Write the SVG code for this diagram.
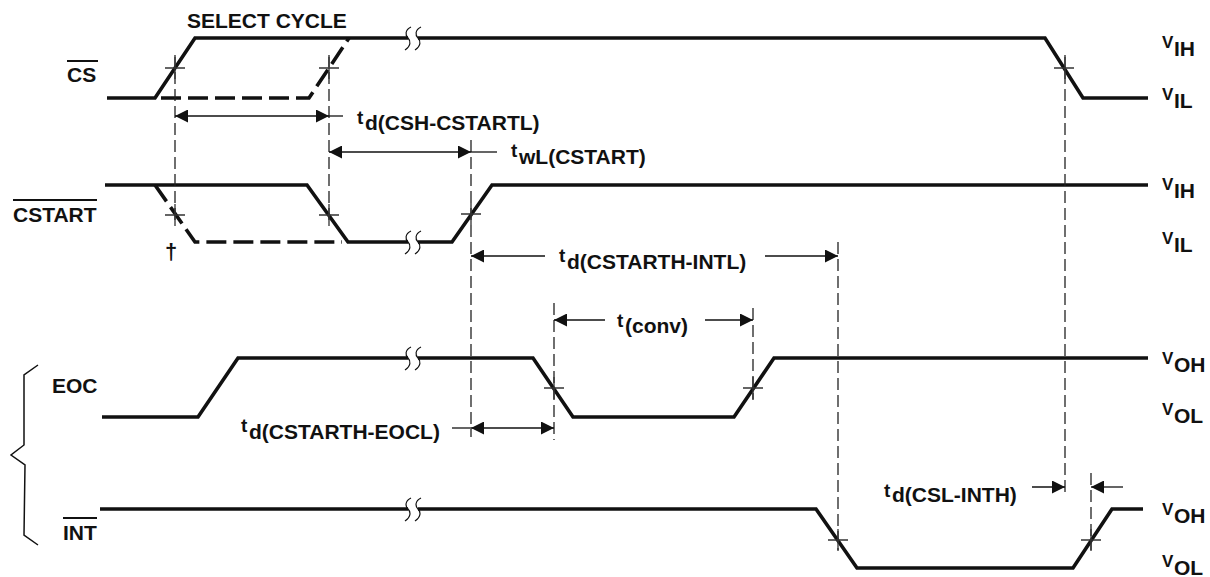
<svg xmlns="http://www.w3.org/2000/svg" width="1210" height="577" viewBox="0 0 1210 577">
<style>
.sig{fill:none;stroke:#111;stroke-width:3.6;stroke-linejoin:miter}
.dsig{fill:none;stroke:#111;stroke-width:3.6;stroke-dasharray:20,7}
.vd{stroke:#222;stroke-width:1.3;stroke-dasharray:12,5;fill:none}
.tk{stroke:#333;stroke-width:1.3;fill:none}
.ar{stroke:#111;stroke-width:1.3;fill:none}
.brk{stroke:#111;stroke-width:1.2;fill:none}
.ov{stroke:#111;stroke-width:2}
text{font-family:"Liberation Sans",Arial,sans-serif;font-weight:bold;fill:#111}
.lb{font-size:21px}
.t{font-size:19px}
.s{font-size:21px}
.v{font-size:17px}
</style>
<defs>
<marker id="ah" viewBox="0 0 13 13" refX="13" refY="6.5" markerWidth="13" markerHeight="13" markerUnits="userSpaceOnUse" orient="auto-start-reverse">
<path d="M0,0 L13,6.5 L0,13 z" fill="#111"/>
</marker>
</defs>
<rect width="1210" height="577" fill="#fff"/>

<g id="sig-cs">
<path class="sig" d="M107,98 L155,98 L195,38 L408,38 M418,38 L1045,38 L1083,98 L1148,98"/>
<path class="dsig" d="M161,98 L309,98 L349,38"/>
<text class="lb" x="67" y="82">CS</text>
<line class="ov" x1="67" y1="61" x2="98" y2="61"/>
<text class="lb" x="187" y="28">SELECT CYCLE</text>
</g>

<g id="sig-cstart">
<path class="sig" d="M105,185 L307,185 L348,242 L408,242 M418,242 L452,242 L492,185 L1148,185"/>
<path class="dsig" d="M155,185 L195,242 L342,242"/>
<text class="lb" x="13" y="222">CSTART</text>
<line class="ov" x1="13" y1="200" x2="97" y2="200"/>
<text x="165" y="259" style="font-size:22px">†</text>
</g>

<g id="sig-eoc">
<path class="sig" d="M102,417 L198,417 L238,358 L408,358 M418,358 L533,358 L573,417 L734,417 L774,358 L1148,358"/>
<text class="lb" x="52" y="393">EOC</text>
</g>

<g id="sig-int">
<path class="sig" d="M100,509 L408,509 M418,509 L816,509 L857,568 L1073,568 L1112,509 L1143,509"/>
<text class="lb" x="63" y="540">INT</text>
<line class="ov" x1="63" y1="518" x2="97" y2="518"/>
</g>

<g id="breaks">
<path class="brk" d="M411,27 C405,30 405,35 408,38 C411,41 411,46 405,50"/>
<path class="brk" d="M421,27 C415,30 415,35 418,38 C421,41 421,46 415,50"/>
<path class="brk" d="M411,231 C405,234 405,239 408,242 C411,245 411,250 405,254"/>
<path class="brk" d="M421,231 C415,234 415,239 418,242 C421,245 421,250 415,254"/>
<path class="brk" d="M411,347 C405,350 405,355 408,358 C411,361 411,366 405,370"/>
<path class="brk" d="M421,347 C415,350 415,355 418,358 C421,361 421,366 415,370"/>
<path class="brk" d="M411,498 C405,501 405,506 408,509 C411,512 411,517 405,521"/>
<path class="brk" d="M421,498 C415,501 415,506 418,509 C421,512 421,517 415,521"/>
</g>

<g id="brace">
<path class="brk" d="M38,365 L24,375 L24,445 L11,455 L25,465 L24,535 L38,545" style="stroke-width:1.5"/>
</g>

<g id="levels">
<text class="v" x="1162" y="48">V</text><text class="s" x="1174" y="56">IH</text>
<text class="v" x="1162" y="100">V</text><text class="s" x="1174" y="108">IL</text>
<text class="v" x="1162" y="190">V</text><text class="s" x="1174" y="198">IH</text>
<text class="v" x="1162" y="244">V</text><text class="s" x="1174" y="252">IL</text>
<text class="v" x="1162" y="364">V</text><text class="s" x="1174" y="372">OH</text>
<text class="v" x="1162" y="415">V</text><text class="s" x="1174" y="423">OL</text>
<text class="v" x="1162" y="515">V</text><text class="s" x="1174" y="523">OH</text>
<text class="v" x="1162" y="567">V</text><text class="s" x="1174" y="575">OL</text>
</g>

<g id="connectors">
<line class="vd" x1="175" y1="55" x2="175" y2="225"/>
<line class="vd" x1="329" y1="55" x2="329" y2="225"/>
<line class="vd" x1="471" y1="140" x2="471" y2="437"/>
<line class="vd" x1="554" y1="303" x2="554" y2="440"/>
<line class="vd" x1="753" y1="308" x2="753" y2="400"/>
<line class="vd" x1="838" y1="242" x2="838" y2="550"/>
<line class="vd" x1="1065" y1="55" x2="1065" y2="497"/>
<line class="vd" x1="1091" y1="473" x2="1091" y2="550"/>

<path class="tk" d="M165,68 H185 M175,57 V79 M319,68 H339 M329,57 V79 M1054,68 H1074 M1065,57 V79 M165,215 H185 M175,204 V226 M319,215 H339 M329,204 V226 M461,214 H481 M471,203 V225 M544,388 H564 M554,377 V399 M743,388 H763 M753,377 V399 M828,540 H848 M838,529 V551 M1081,540 H1101 M1091,529 V551"/>

<line class="ar" x1="175" y1="116" x2="329" y2="116" marker-start="url(#ah)" marker-end="url(#ah)"/>
<line class="ar" x1="329" y1="116" x2="343" y2="116"/>
<line class="ar" x1="329" y1="152" x2="471" y2="152" marker-start="url(#ah)" marker-end="url(#ah)"/>
<line class="ar" x1="471" y1="152" x2="497" y2="152"/>
<line class="ar" x1="545" y1="256" x2="471" y2="256" marker-end="url(#ah)"/>
<line class="ar" x1="765" y1="256" x2="838" y2="256" marker-end="url(#ah)"/>
<line class="ar" x1="605" y1="320" x2="554" y2="320" marker-end="url(#ah)"/>
<line class="ar" x1="705" y1="320" x2="753" y2="320" marker-end="url(#ah)"/>
<line class="ar" x1="471" y1="428" x2="554" y2="428" marker-start="url(#ah)" marker-end="url(#ah)"/>
<line class="ar" x1="452" y1="428" x2="471" y2="428"/>
<line class="ar" x1="1032" y1="487" x2="1065" y2="487" marker-end="url(#ah)"/>
<line class="ar" x1="1123" y1="487" x2="1091" y2="487" marker-end="url(#ah)"/>
</g>

<g id="timing-labels">
<text class="t" x="357" y="124">t</text><text class="s" x="365" y="130">d(CSH-CSTARTL)</text>
<text class="t" x="511" y="157">t</text><text class="s" x="519" y="164">wL(CSTART)</text>
<text class="t" x="559" y="262">t</text><text class="s" x="567" y="269">d(CSTARTH-INTL)</text>
<text class="t" x="617" y="327">t</text><text class="s" x="625" y="333">(conv)</text>
<text class="t" x="241" y="432">t</text><text class="s" x="249" y="439">d(CSTARTH-EOCL)</text>
<text class="t" x="884" y="497">t</text><text class="s" x="892" y="502">d(CSL-INTH)</text>
</g>
</svg>
